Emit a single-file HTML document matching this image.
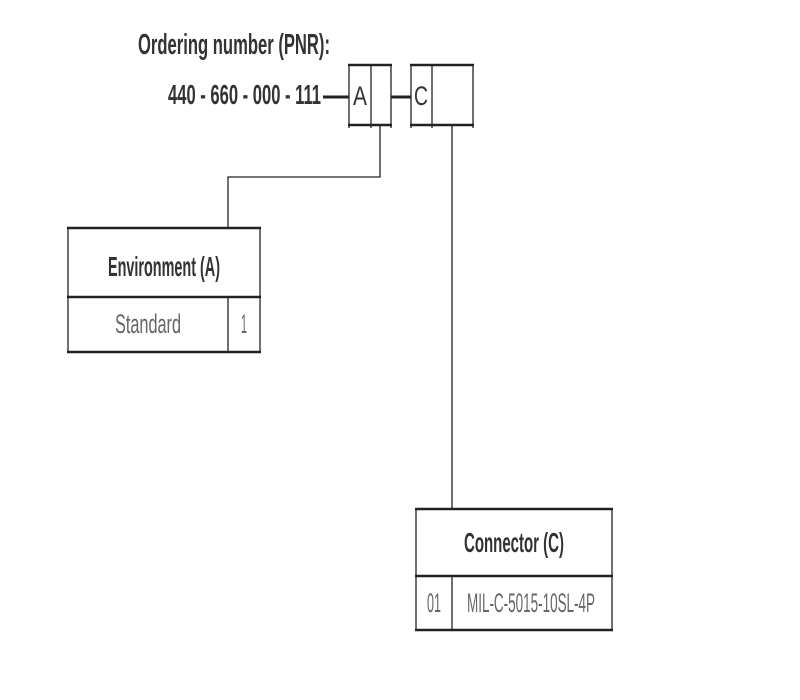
<!DOCTYPE html>
<html><head><meta charset="utf-8"><style>
html,body{margin:0;padding:0;background:#fff;width:800px;height:700px;overflow:hidden}
</style></head><body>
<svg width="800" height="700" xmlns="http://www.w3.org/2000/svg" font-family="Liberation Sans, sans-serif">
<g fill="#333">
<text x="138" y="54" font-size="29" font-weight="bold" textLength="192" lengthAdjust="spacingAndGlyphs">Ordering number (PNR):</text>
<text x="168" y="104" font-size="28" font-weight="bold" textLength="153" lengthAdjust="spacingAndGlyphs">440 - 660 - 000 - 111</text>
<text x="353" y="105" font-size="27" textLength="14" lengthAdjust="spacingAndGlyphs">A</text>
<text x="414" y="105" font-size="27" textLength="14" lengthAdjust="spacingAndGlyphs">C</text>
<text x="164" y="276" font-size="28" font-weight="bold" text-anchor="middle" textLength="112" lengthAdjust="spacingAndGlyphs">Environment (A)</text>
<text x="148" y="333" font-size="27" fill="#666" text-anchor="middle" textLength="66" lengthAdjust="spacingAndGlyphs">Standard</text>
<text x="244" y="333" font-size="27" fill="#666" text-anchor="middle" textLength="6" lengthAdjust="spacingAndGlyphs">1</text>
<text x="514" y="552" font-size="28" font-weight="bold" text-anchor="middle" textLength="100" lengthAdjust="spacingAndGlyphs">Connector (C)</text>
<text x="434" y="612" font-size="27" fill="#666" text-anchor="middle" textLength="14" lengthAdjust="spacingAndGlyphs">01</text>
<text x="531" y="612" font-size="27" fill="#666" text-anchor="middle" textLength="128" lengthAdjust="spacingAndGlyphs">MIL-C-5015-10SL-4P</text>
</g>
<g stroke="#222" fill="none">
<line x1="323" y1="97" x2="349" y2="97" stroke-width="3"/>
<line x1="391" y1="97" x2="411" y2="97" stroke-width="3"/>
<line x1="348" y1="65" x2="392" y2="65" stroke-width="2.5"/>
<line x1="348" y1="125" x2="392" y2="125" stroke-width="2.5"/>
<line x1="349" y1="65" x2="349" y2="128" stroke-width="1.3"/>
<line x1="371" y1="65" x2="371" y2="128" stroke-width="1.3"/>
<line x1="391" y1="65" x2="391" y2="128" stroke-width="1.3"/>
<line x1="410" y1="65" x2="474" y2="65" stroke-width="2.5"/>
<line x1="410" y1="125" x2="474" y2="125" stroke-width="2.5"/>
<line x1="411" y1="65" x2="411" y2="128" stroke-width="1.3"/>
<line x1="432" y1="65" x2="432" y2="128" stroke-width="1.3"/>
<line x1="473" y1="65" x2="473" y2="128" stroke-width="1.3"/>
<polyline points="380,126 380,177 228,177 228,228" stroke-width="1.3"/>
<line x1="452" y1="126" x2="452" y2="509" stroke-width="1.3"/>
<line x1="67" y1="228" x2="261" y2="228" stroke-width="2.5"/>
<line x1="67" y1="297" x2="261" y2="297" stroke-width="2.5"/>
<line x1="67" y1="352" x2="261" y2="352" stroke-width="2.5"/>
<line x1="68" y1="228" x2="68" y2="352" stroke-width="1.3"/>
<line x1="260" y1="228" x2="260" y2="352" stroke-width="1.3"/>
<line x1="228" y1="297" x2="228" y2="352" stroke-width="1.3"/>
<line x1="415" y1="509" x2="613" y2="509" stroke-width="2.5"/>
<line x1="415" y1="576" x2="613" y2="576" stroke-width="2.5"/>
<line x1="415" y1="630" x2="613" y2="630" stroke-width="2.5"/>
<line x1="416" y1="509" x2="416" y2="630" stroke-width="1.3"/>
<line x1="612" y1="509" x2="612" y2="630" stroke-width="1.3"/>
<line x1="452" y1="576" x2="452" y2="630" stroke-width="1.3"/>
</g>
</svg>
</body></html>
